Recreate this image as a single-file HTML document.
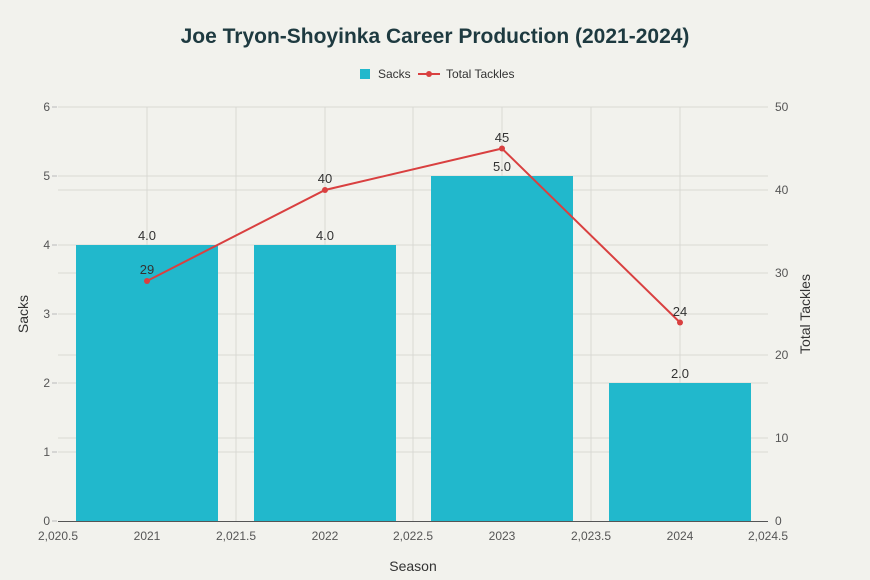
<!DOCTYPE html>
<html><head><meta charset="utf-8"><style>
body{margin:0;background:#f2f2ed;}
svg{display:block;font-family:"Liberation Sans",sans-serif;}
</style></head><body>
<svg width="870" height="580" viewBox="0 0 870 580">
<rect width="870" height="580" fill="#f2f2ed"/>
<text x="435" y="43" text-anchor="middle" font-size="21" font-weight="bold" fill="#1e3a40">Joe Tryon-Shoyinka Career Production (2021-2024)</text>
<rect x="360" y="69" width="10" height="10" fill="#21b8cc"/>
<text x="378" y="78" font-size="12" fill="#333">Sacks</text>
<line x1="418" y1="74" x2="440" y2="74" stroke="#d94040" stroke-width="2"/>
<circle cx="429" cy="74" r="3" fill="#d94040"/>
<text x="446" y="78" font-size="12" fill="#333">Total Tackles</text>
<g stroke="#d9d9d4" stroke-width="1">
<line x1="58" y1="107" x2="768" y2="107"/><line x1="58" y1="176" x2="768" y2="176"/><line x1="58" y1="245" x2="768" y2="245"/><line x1="58" y1="314" x2="768" y2="314"/><line x1="58" y1="383" x2="768" y2="383"/><line x1="58" y1="452" x2="768" y2="452"/>
<line x1="58" y1="190" x2="768" y2="190"/><line x1="58" y1="273" x2="768" y2="273"/><line x1="58" y1="355" x2="768" y2="355"/><line x1="58" y1="438" x2="768" y2="438"/>
<line x1="147" y1="107" x2="147" y2="521"/><line x1="236" y1="107" x2="236" y2="521"/><line x1="325" y1="107" x2="325" y2="521"/><line x1="413" y1="107" x2="413" y2="521"/><line x1="502" y1="107" x2="502" y2="521"/><line x1="591" y1="107" x2="591" y2="521"/><line x1="680" y1="107" x2="680" y2="521"/>
</g>
<g fill="#21b8cc">
<rect x="76" y="245" width="142" height="276"/>
<rect x="254" y="245" width="142" height="276"/>
<rect x="431" y="176" width="142" height="345"/>
<rect x="609" y="383" width="142" height="138"/>
</g>
<line x1="58" y1="521.5" x2="768" y2="521.5" stroke="#555" stroke-width="1"/>
<g font-size="13" fill="#333" text-anchor="middle">
<text x="147" y="240">4.0</text><text x="325" y="240">4.0</text><text x="502" y="171">5.0</text><text x="680" y="378">2.0</text>
</g>
<polyline points="147,281 325,190 502,148.5 680,322.5" fill="none" stroke="#d94040" stroke-width="2"/>
<g fill="#d94040"><circle cx="147" cy="281" r="3"/><circle cx="325" cy="190" r="3"/><circle cx="502" cy="148.5" r="3"/><circle cx="680" cy="322.5" r="3"/></g>
<g font-size="13" fill="#333" text-anchor="middle">
<text x="147" y="274">29</text><text x="325" y="183">40</text><text x="502" y="142">45</text><text x="680" y="316">24</text>
</g>
<g font-size="12" fill="#555" text-anchor="end">
<text x="50" y="111">6</text><text x="50" y="180">5</text><text x="50" y="249">4</text><text x="50" y="318">3</text><text x="50" y="387">2</text><text x="50" y="456">1</text><text x="50" y="525">0</text>
</g>
<g stroke="#bbb"><line x1="52" y1="107" x2="57" y2="107"/><line x1="52" y1="176" x2="57" y2="176"/><line x1="52" y1="245" x2="57" y2="245"/><line x1="52" y1="314" x2="57" y2="314"/><line x1="52" y1="383" x2="57" y2="383"/><line x1="52" y1="452" x2="57" y2="452"/><line x1="52" y1="521" x2="57" y2="521"/></g>
<g font-size="12" fill="#555" text-anchor="start">
<text x="775" y="111">50</text><text x="775" y="194">40</text><text x="775" y="277">30</text><text x="775" y="359">20</text><text x="775" y="442">10</text><text x="775" y="525">0</text>
</g>
<g font-size="12" fill="#555" text-anchor="middle">
<text x="58" y="540">2,020.5</text><text x="147" y="540">2021</text><text x="236" y="540">2,021.5</text><text x="325" y="540">2022</text><text x="413" y="540">2,022.5</text><text x="502" y="540">2023</text><text x="591" y="540">2,023.5</text><text x="680" y="540">2024</text><text x="768" y="540">2,024.5</text>
</g>
<text x="413" y="571" font-size="14" fill="#333" text-anchor="middle">Season</text>
<text transform="translate(28,314) rotate(-90)" font-size="14" fill="#333" text-anchor="middle">Sacks</text>
<text transform="translate(810,314) rotate(-90)" font-size="14" fill="#333" text-anchor="middle">Total Tackles</text>
</svg>
</body></html>
